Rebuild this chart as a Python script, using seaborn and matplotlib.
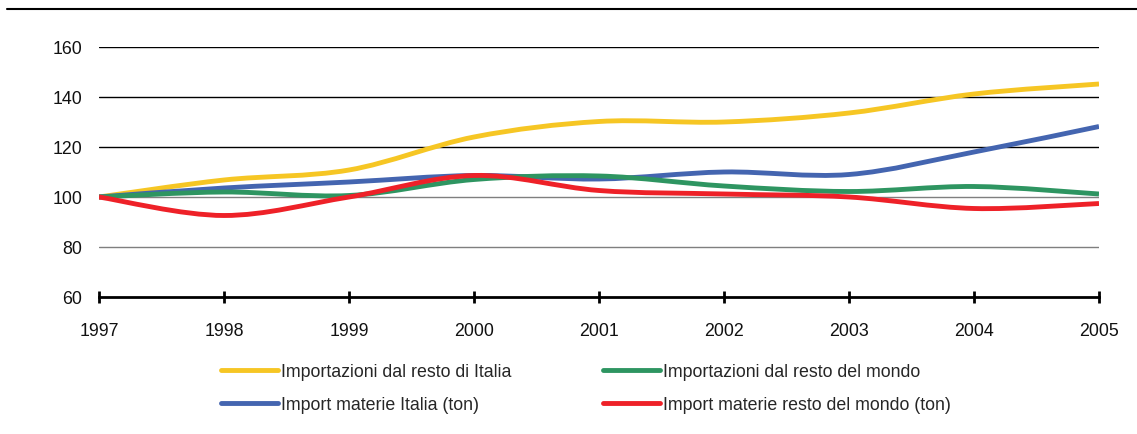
import numpy as np
import pandas as pd
import matplotlib
matplotlib.use("Agg")
import matplotlib.pyplot as plt
from matplotlib.path import Path
from matplotlib.patches import PathPatch
from matplotlib.lines import Line2D
import seaborn as sns

# Index values, 1997 = 100
years = [1997, 1998, 1999, 2000, 2001, 2002, 2003, 2004, 2005]
imp_resto_italia = [100, 106.8, 110.8, 124.0, 130.2, 130.0, 133.6, 141.2, 145.2]
imp_materie_italia = [100, 103.6, 106.0, 108.6, 107.2, 110.0, 109.0, 118.0, 128.2]
imp_resto_mondo = [100, 102.0, 100.6, 107.0, 108.4, 104.4, 102.2, 104.2, 101.2]
imp_materie_mondo = [100, 92.6, 100.0, 108.6, 102.6, 101.2, 100.0, 95.4, 97.4]

series_names = [
    "Importazioni dal resto di Italia",
    "Import materie Italia (ton)",
    "Importazioni dal resto del mondo",
    "Import materie resto del mondo (ton)",
]
series_values = [imp_resto_italia, imp_materie_italia, imp_resto_mondo, imp_materie_mondo]
colors = ["#F6C624", "#4465B0", "#2E9561", "#EE2128"]

y_ticks = [60, 80, 100, 120, 140, 160]

df = pd.DataFrame({
    "anno": np.tile(years, len(series_names)),
    "valore": np.concatenate(series_values),
    "serie": np.repeat(series_names, len(years)),
})

sns.set_style("white")
plt.rcParams["font.family"] = ["Liberation Sans", "DejaVu Sans"]

FS = 12.8

fig = plt.figure(figsize=(11.37, 4.35), dpi=100)
ax = fig.add_axes([99 / 1137, 1 - 298 / 435, 1000 / 1137, 250 / 435])

sns.lineplot(data=df, x="anno", y="valore", hue="serie", palette=colors,
             hue_order=series_names, legend=False, ax=ax)


def smooth_path(x, y):
    """Catmull-Rom spline through the points, as cubic Bezier segments."""
    pts = np.column_stack([x, y]).astype(float)
    ext = np.vstack([pts[0], pts, pts[-1]])
    verts = [pts[0]]
    codes = [Path.MOVETO]
    for i in range(1, len(ext) - 2):
        p0, p1, p2, p3 = ext[i - 1], ext[i], ext[i + 1], ext[i + 2]
        c1 = p1 + (p2 - p0) / 6.0
        c2 = p2 - (p3 - p1) / 6.0
        verts += [c1, c2, p2]
        codes += [Path.CURVE4] * 3
    return Path(verts, codes)


# Replace the straight polylines with smoothed curves of the same data
for line, col in zip(list(ax.lines), colors):
    xd, yd = line.get_xdata(), line.get_ydata()
    line.remove()
    patch = PathPatch(smooth_path(xd, yd), facecolor="none", edgecolor=col,
                      lw=3.5, capstyle="butt", joinstyle="round", zorder=3)
    ax.add_patch(patch)

# Horizontal reference lines
for v in y_ticks[1:]:
    ax.axhline(v, color="#000000" if v >= 120 else "#7f7f7f", lw=1.0, zorder=1)

ax.set_xlim(years[0], years[-1])
ax.set_ylim(y_ticks[0], y_ticks[-1])
ax.set_xticks(years)
ax.set_xticklabels([str(y) for y in years])
ax.set_yticks(y_ticks)
ax.set_xlabel("")
ax.set_ylabel("")

for s in ["top", "right", "left"]:
    ax.spines[s].set_visible(False)
ax.spines["bottom"].set_linewidth(2.0)
ax.spines["bottom"].set_color("black")
ax.spines["bottom"].set_zorder(4)

ax.tick_params(axis="x", direction="inout", length=8.6, width=2.0, color="black",
               labelsize=FS, pad=13.5, bottom=True)
ax.tick_params(axis="y", length=0, labelsize=FS, pad=12)
for lab in ax.get_xticklabels() + ax.get_yticklabels():
    lab.set_color("#111111")

# Top rule
fig.add_artist(Line2D([7 / 1137, 1.0], [1 - 10 / 435, 1 - 10 / 435],
                      transform=fig.transFigure, color="black", lw=1.5))

handles = [Line2D([], [], color=c, lw=3.5, solid_capstyle="round") for c in colors]
fig.legend(handles, series_names, ncol=2, loc="upper left",
           bbox_to_anchor=(221 / 1137, 1 - 364 / 435), frameon=False,
           borderpad=0, borderaxespad=0,
           fontsize=FS, handlelength=3.2, handletextpad=0.15,
           columnspacing=5.2, labelspacing=0.9)

fig.savefig("out.png", dpi=100)
